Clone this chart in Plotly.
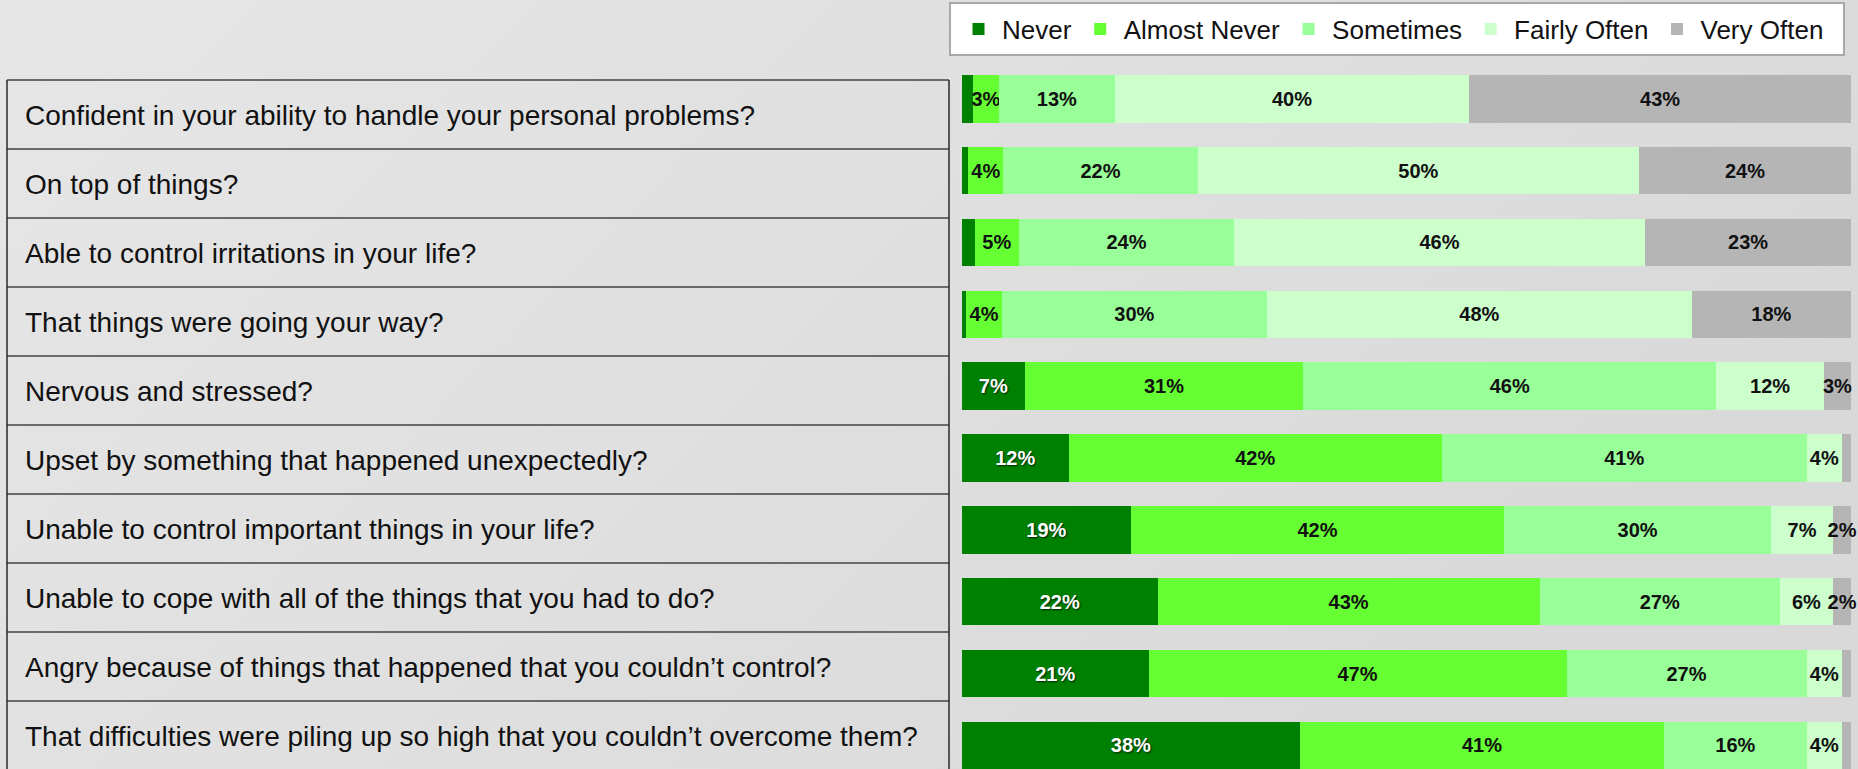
import base64
import plotly.graph_objects as go

# Survey questions (rows, top to bottom)
questions = [
    "Confident in your ability to handle your personal problems?",
    "On top of things?",
    "Able to control irritations in your life?",
    "That things were going your way?",
    "Nervous and stressed?",
    "Upset by something that happened unexpectedly?",
    "Unable to control important things in your life?",
    "Unable to cope with all of the things that you had to do?",
    "Angry because of things that happened that you couldn\u2019t control?",
    "That difficulties were piling up so high that you couldn\u2019t overcome them?",
]

# Response shares (%) per answer category
never = [1.2, 0.7, 1.4, 0.5, 7, 12, 19, 22, 21, 38]
almost_never = [3, 4, 5, 4, 31, 42, 42, 43, 47, 41]
sometimes = [13, 22, 24, 30, 46, 41, 30, 27, 27, 16]
fairly_often = [40, 50, 46, 48, 12, 4, 7, 6, 4, 4]
very_often = [43, 24, 23, 18, 3, 1, 2, 2, 1, 1]

series_names = ["Never", "Almost Never", "Sometimes", "Fairly Often", "Very Often"]
series_values = [never, almost_never, sometimes, fairly_often, very_often]
series_colors = ["#008000", "#66ff33", "#99ff99", "#ccffcc", "#b5b5b5"]
label_colors = ["#ffffff", "#111111", "#111111", "#111111", "#111111"]

W, H = 1858, 769
FONT = "Liberation Sans, Arial, sans-serif"
BG = "#e0e0e0"

# soft slide-style background shading
bg_svg = (
    '<svg xmlns="http://www.w3.org/2000/svg" width="200" height="100" '
    'preserveAspectRatio="none" viewBox="0 0 200 100">'
    '<defs><linearGradient id="g" x1="0" y1="0" x2="1" y2="0.4">'
    '<stop offset="0" stop-color="#e6e6e6"/>'
    '<stop offset="1" stop-color="#d9d9d9"/>'
    '</linearGradient></defs>'
    '<rect width="200" height="100" fill="url(#g)"/></svg>'
)
bg_uri = "data:image/svg+xml;base64," + base64.b64encode(bg_svg.encode()).decode()


def px_x(x):
    return x / W


def px_y(y):
    return 1 - y / H


def pct_label(v):
    # slivers under 2% carry no label
    return f"{v:g}%" if v >= 2 else ""


fig = go.Figure()
for name, vals, color, tcol in zip(series_names, series_values, series_colors, label_colors):
    textfont = dict(family=FONT, size=20, color=tcol, weight="bold")
    if name == "Never":
        textfont["shadow"] = "1px 1px 2px rgba(0,0,0,0.75)"
    fig.add_trace(go.Bar(
        name=name,
        y=questions,
        x=vals,
        orientation="h",
        marker=dict(color=color, line=dict(width=0)),
        text=[pct_label(v) for v in vals],
        textposition="inside",
        insidetextanchor="middle",
        textangle=0,
        constraintext="none",
        textfont=textfont,
        cliponaxis=False,
        hoverinfo="skip",
    ))

# Row geometry of the bar panel (pixels)
bar_pitch = 71.85
bar_thick = 47.5
first_center = 98.75
top_edge = first_center - bar_pitch / 2
bottom_val = -0.5 + (H - top_edge) / bar_pitch

shapes = []
annotations = []

# Question table on the left
table_left, table_right = 7, 949
table_top, row_h = 80, 69
for i in range(len(questions) + 1):
    y = table_top + row_h * i
    shapes.append(dict(type="line", xref="paper", yref="paper",
                       x0=px_x(table_left), x1=px_x(table_right),
                       y0=px_y(y), y1=px_y(y),
                       line=dict(color="#6a6a6a", width=2), layer="above"))
for x in (table_left, table_right):
    shapes.append(dict(type="line", xref="paper", yref="paper",
                       x0=px_x(x), x1=px_x(x),
                       y0=px_y(table_top), y1=px_y(H + 5),
                       line=dict(color="#2a2a2a", width=1.5), layer="above"))
for i, q in enumerate(questions):
    annotations.append(dict(
        xref="paper", yref="paper",
        x=px_x(23), y=px_y(table_top + row_h * i + row_h / 2 + 1),
        xanchor="left", yanchor="middle",
        text=q, showarrow=False,
        font=dict(family=FONT, size=28, color="#111111"),
    ))

# Legend frame
shapes.append(dict(type="rect", xref="paper", yref="paper",
                   x0=px_x(950), x1=px_x(1844), y0=px_y(3), y1=px_y(55),
                   fillcolor="#ffffff", line=dict(color="#a8a8a8", width=2),
                   layer="above"))

fig.update_layout(
    width=W, height=H,
    margin=dict(l=0, r=0, t=0, b=0),
    paper_bgcolor=BG, plot_bgcolor="rgba(0,0,0,0)",
    images=[dict(source=bg_uri, xref="paper", yref="paper", x=0, y=1,
                 sizex=1, sizey=1, xanchor="left", yanchor="top",
                 sizing="stretch", layer="below")],
    barmode="stack", barnorm="percent",
    bargap=1 - bar_thick / bar_pitch,
    hovermode=False,
    showlegend=True,
    legend=dict(
        orientation="h",
        x=px_x(955), xanchor="left",
        y=px_y(29), yanchor="middle",
        bgcolor="rgba(0,0,0,0)",
        font=dict(family=FONT, size=26, color="#111111"),
        itemwidth=37,
        traceorder="normal",
        itemclick=False, itemdoubleclick=False,
    ),
    # a hair above 100 keeps the stacked totals inside the range
    xaxis=dict(domain=[px_x(962), px_x(1851)], range=[0, 100.001], visible=False,
               fixedrange=True),
    yaxis=dict(domain=[0, px_y(top_edge)], range=[bottom_val, -0.5],
               categoryorder="array", categoryarray=questions,
               visible=False, fixedrange=True),
    shapes=shapes,
    annotations=annotations,
)

fig.write_html("out.html", config={"displayModeBar": False})
